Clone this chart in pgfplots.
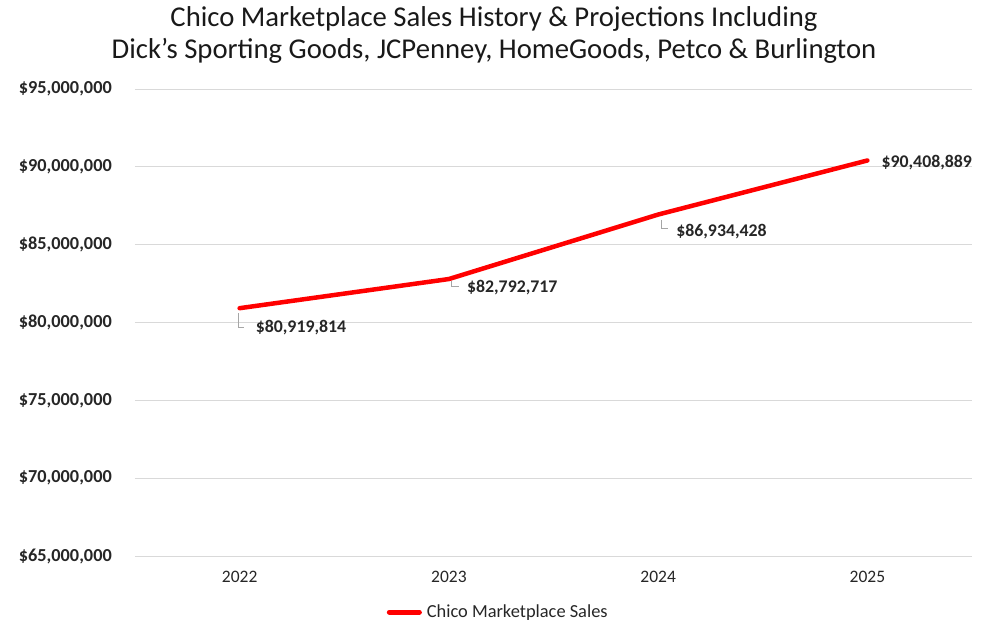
\documentclass[border=0pt]{standalone}
\usepackage{pgfplots}
\pgfplotsset{compat=1.18}
\usepackage{fontspec}
\setmainfont{Carlito}

\definecolor{salesred}{RGB}{255,0,0}
\definecolor{gridgray}{RGB}{217,217,217}
\definecolor{leadgray}{RGB}{166,166,166}

\begin{document}
\begin{tikzpicture}[x=1pt,y=1pt]
\path[use as bounding box] (0,0) rectangle (989,-625);
\node[align=center, font=\fontsize{28.7}{32}\selectfont, text=black!90] at (494,-35)
  {Chico Marketplace Sales History \& Projections Including\\Dick’s Sporting Goods, JCPenney, HomeGoods, Petco \& Burlington};
\begin{axis}[
  at={(135pt,-556pt)}, anchor=south west,
  width=837pt, height=467pt, scale only axis,
  xmin=-0.5, xmax=3.5,
  ymin=65000000, ymax=95000000,
  scaled y ticks=false,
  xtick={0,1,2,3},
  xticklabels={2022,2023,2024,2025},
  ytick={65000000,70000000,75000000,80000000,85000000,90000000,95000000},
  yticklabels={{\$65,000,000},{\$70,000,000},{\$75,000,000},{\$80,000,000},{\$85,000,000},{\$90,000,000},{\$95,000,000}},
  axis line style={draw=none},
  major tick length=0pt,
  ymajorgrids,
  grid style={gridgray, line width=1pt},
  yticklabel style={font=\fontsize{18.3}{20}\selectfont\bfseries, text=black!85, inner sep=0pt, anchor=east, xshift=-23pt},
  xticklabel style={font=\fontsize{17.5}{20}\selectfont, text=black!85, inner sep=0pt, anchor=north, yshift=-15pt},
  legend style={at={(0.434,-0.12)}, anchor=center, draw=none, fill=none,
    font=\fontsize{18.4}{21}\selectfont, text=black!85, inner sep=0pt,
    /tikz/every even column/.append style={column sep=0pt}},
  legend image code/.code={\draw[salesred, line width=5pt] (0pt,0pt) -- (30pt,0pt);},
  legend cell align=left,
  clip=false,
]
\addplot[salesred, line width=4.5pt, line join=round, line cap=round]
  coordinates {(0,80919814) (1,82792717) (2,86934428) (3,90408889)};
\addlegendentry{\hspace{3pt}Chico Marketplace Sales}

% data labels with leader lines
\draw[leadgray, line width=0.8pt] (axis cs:0,80919814) ++(-1pt,-5pt) -- ++(0pt,-14pt) -- ++(5pt,0pt);
\node[anchor=west, inner sep=0pt, font=\fontsize{17.8}{20}\selectfont\bfseries, text=black!85]
  at (axis cs:0,80919814) [xshift=16pt, yshift=-19pt] {\$80,919,814};
\draw[leadgray, line width=0.8pt] (axis cs:1,82792717) ++(3pt,-2pt) -- ++(0pt,-5pt) -- ++(7pt,0pt);
\node[anchor=west, inner sep=0pt, font=\fontsize{17.8}{20}\selectfont\bfseries, text=black!85]
  at (axis cs:1,82792717) [xshift=18pt, yshift=-9pt] {\$82,792,717};
\draw[leadgray, line width=0.8pt] (axis cs:2,86934428) ++(3pt,-5pt) -- ++(0pt,-9pt) -- ++(7pt,0pt);
\node[anchor=west, inner sep=0pt, font=\fontsize{17.8}{20}\selectfont\bfseries, text=black!85]
  at (axis cs:2,86934428) [xshift=18pt, yshift=-17pt] {\$86,934,428};
\node[anchor=west, inner sep=0pt, font=\fontsize{17.8}{20}\selectfont\bfseries, text=black!85]
  at (axis cs:3,90408889) [xshift=14pt, yshift=-2pt] {\$90,408,889};
\end{axis}
\end{tikzpicture}
\end{document}
